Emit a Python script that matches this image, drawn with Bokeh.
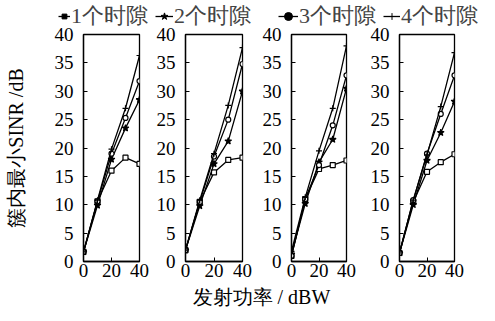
from bokeh.plotting import figure
from bokeh.layouts import row, column
from bokeh.models import Range1d, FixedTicker, Legend, LegendItem, Label
from bokeh.embed import file_html
from bokeh.resources import INLINE

# ---------------- data ----------------
power = [0, 10, 20, 30, 40]
series_names = ["1个时隙", "2个时隙", "3个时隙", "4个时隙"]
y_ticks = [0, 5, 10, 15, 20, 25, 30, 35, 40]
x_ticks = [0, 20, 40]

panel1 = [
    [1.7, 10.6, 16.0, 18.3, 17.2],
    [1.7, 9.9, 18.0, 23.5, 28.5],
    [1.7, 10.6, 19.0, 25.3, 31.8],
    [1.7, 10.8, 19.8, 27.0, 36.3],
]
panel2 = [
    [2.0, 10.5, 15.7, 17.9, 18.3],
    [2.0, 9.8, 17.2, 21.2, 30.0],
    [2.0, 10.5, 18.5, 25.0, 34.8],
    [2.0, 10.8, 19.0, 27.5, 37.7],
]
panel3 = [
    [1.0, 11.0, 16.3, 17.0, 17.8],
    [1.3, 10.2, 17.5, 21.5, 30.5],
    [1.0, 11.0, 17.0, 24.0, 32.8],
    [1.8, 11.3, 19.5, 27.0, 38.0],
]
panel4 = [
    [1.5, 10.5, 15.8, 17.5, 18.9],
    [1.5, 10.0, 17.8, 22.7, 28.2],
    [1.5, 10.8, 19.0, 26.0, 32.8],
    [1.5, 10.8, 18.8, 27.3, 36.8],
]

# ---------------- styles ----------------
FONT = "Liberation Serif"
markers = ["square", "star", "circle", "cross"]
msizes = [5, 7, 5, 6]
mfills = ["white", "black", "white", "black"]
FH = 227
TOP = 12
LH = 34          # legend strip height
OVERLAP = LH + TOP - 34   # so that the plot frames start at y = 34


def make_panel(data, left, fw, right, ylabel=None):
    p = figure(output_backend="svg", toolbar_location=None,
               frame_width=fw, frame_height=FH,
               x_range=Range1d(0, 40), y_range=Range1d(0, 40),
               min_border_left=left, min_border_right=right,
               min_border_top=TOP, min_border_bottom=22)
    p.grid.visible = False
    p.outline_line_color = "black"
    p.outline_line_width = 1.3
    p.background_fill_color = "white"
    p.border_fill_color = None
    for i, ys in enumerate(data):
        p.line(power, ys, line_color="black", line_width=1.3)
        p.scatter(power, ys, marker=markers[i], size=msizes[i],
                  line_color="black", fill_color=mfills[i], line_width=1.2)
    p.xaxis.ticker = FixedTicker(ticks=x_ticks)
    p.yaxis.ticker = FixedTicker(ticks=y_ticks)
    for ax in (p.xaxis[0], p.yaxis[0]):
        ax.major_tick_in = 4
        ax.major_tick_out = 0
        ax.minor_tick_line_color = None
        ax.axis_line_color = "black"
        ax.axis_line_width = 1.3
        ax.major_tick_line_color = "black"
        ax.major_label_text_font = FONT
        ax.major_label_text_font_size = "19px"
        ax.major_label_text_color = "black"
    p.yaxis.major_label_standoff = 10
    p.xaxis.major_label_standoff = 2
    if ylabel:
        p.yaxis.axis_label = ylabel
        p.yaxis.axis_label_text_font = FONT
        p.yaxis.axis_label_text_font_size = "20px"
        p.yaxis.axis_label_text_font_style = "normal"
        p.yaxis.axis_label_text_color = "black"
        p.yaxis.axis_label_standoff = 25
    return p


p1 = make_panel(panel1, 83, 56, 14, ylabel="簇内最小SINR /dB")
p2 = make_panel(panel2, 32, 57, 14)
p3 = make_panel(panel3, 35, 55, 14)
p4 = make_panel(panel4, 39, 55, 12)

# legend strip (one small legend per series, placed along the top)
lf = figure(output_backend="svg", toolbar_location=None, width=495, height=LH,
            min_border=0, x_axis_type=None, y_axis_type=None,
            x_range=Range1d(0, 1), y_range=Range1d(0, 1), outline_line_color=None,
            border_fill_color=None, background_fill_color=None)
lf.grid.visible = False
leg_x = [58, 155, 278, 383]
leg_w = [12, 18, 20, 17]
for i, name in enumerate(series_names):
    r1 = lf.line(x=[-5, -4], y=[-5, -4], line_color="black", line_width=1.3)
    r2 = lf.scatter(x=[-5], y=[-5], marker=markers[i], size=4,
                    line_color="black", fill_color="black", line_width=1.0)
    leg = Legend(items=[LegendItem(label=name, renderers=[r1, r2])],
                 orientation="horizontal", location=(leg_x[i], 3),
                 padding=0, margin=0, spacing=0, glyph_width=leg_w[i], glyph_height=20,
                 label_height=20, label_standoff=1,
                 label_text_font=FONT, label_text_font_size="22px",
                 border_line_color=None, background_fill_alpha=0)
    lf.add_layout(leg, "center")

# bottom label strip
bf = figure(output_backend="svg", toolbar_location=None, width=495, height=38,
            min_border=0, x_axis_type=None, y_axis_type=None,
            x_range=Range1d(0, 1), y_range=Range1d(0, 1), outline_line_color=None)
bf.grid.visible = False
bf.add_layout(Label(x=192, y=25, x_units="screen", y_units="screen",
                    text="发射功率 / dBW", text_font=FONT, text_font_size="20px",
                    text_baseline="middle", text_color="black"))

panels = row(p1, p2, p3, p4, margin=(-OVERLAP, 0, 0, 0))
layout = column(lf, panels, bf)

with open("out.html", "w") as f:
    f.write(file_html(layout, INLINE))
